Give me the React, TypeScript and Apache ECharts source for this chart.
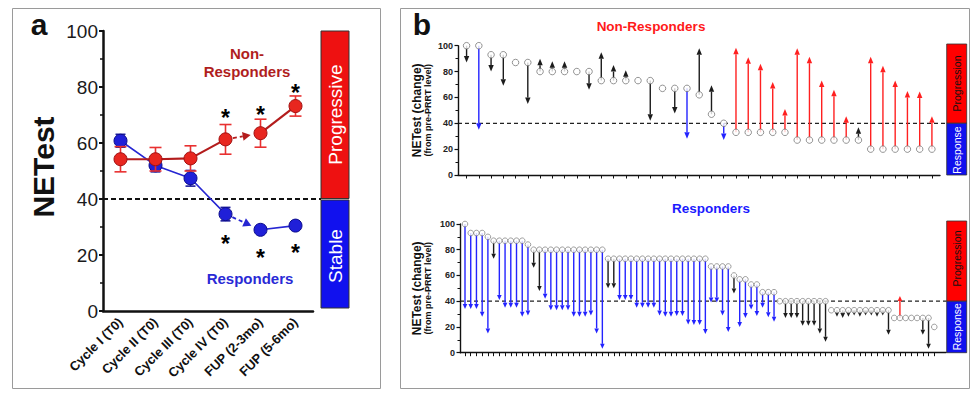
import React, { useEffect, useRef } from "react";
import * as echarts from "echarts";

const FONT = '"Liberation Sans", Arial, Helvetica, sans-serif';

// ---------------- Panel a data ----------------
const timepoints = ["Cycle I (T0)", "Cycle II (T0)", "Cycle III (T0)", "Cycle IV (T0)", "FUP (2-3mo)", "FUP (5-6mo)"];
const nonRespMean = [54.2, 54.2, 54.5, 61.3, 63.5, 73.2];
const nonRespErr = [4.5, 4.2, 4.5, 5.3, 5.0, 3.6];
const respMean = [60.8, 52.0, 47.4, 34.6, 29.0, 30.5];
const respErr = [2.3, 2.3, 2.8, 2.4, 1.0, 1.3];
const nonRespStars = [null, null, null, 70.8, 71.8, 79.5];
const respStars = [null, null, null, 25.6, 20.7, 22.4];
const DASHED_FROM = 3; // Cycle IV -> FUP (2-3mo) drawn dashed with arrow
const THRESHOLD = 40;
const yTicksA = [0, 20, 40, 60, 80, 100];

// ---------------- Panel b data (top: Non-Responders) ----------------
const nrStart = [100, 100, 93, 93, 87, 87, 80, 80, 80, 80, 80, 73, 73, 73, 73, 73, 67, 67, 67, 62, 47, 40, 33, 33, 33, 33, 33, 27, 27, 27, 27, 27, 27, 20, 20, 20, 20, 20, 20];
const nrEnd = [87, 35, 80, 69, 87, 55, 90, 88, 88, 80, 66, 95, 85, 81, 73, 42, 67, 47.5, 28, 98, 69.5, 27, 98.5, 91, 86, 72, 51, 98, 91.5, 73, 66, 45.5, 37, 91.5, 84.5, 73, 65, 64.5, 45.5];
// k = stable (black), b = response (blue), r = progression (red), - = unchanged
const nrKind = ["kbkk-k", "kkk-k", "kkk-k", "-kb", "kkb", "rrrrr", "rrrrrk", "rrrrrr"].join("").split("");

// ---------------- Panel b data (bottom: Responders) ----------------
const rStart = [
  100, 93, 93, 93, 90, 87, 87, 87, 87, 87, 87, 84,
  80, 80, 80, 80, 80, 80, 80, 80, 80, 80, 80, 80, 80,
  73, 73, 73, 73, 73, 73, 73, 73, 73, 73, 73, 73, 73, 73, 73, 73, 73, 73,
  67, 67, 67, 67, 60, 57, 57, 53, 53, 47, 47, 47,
  40, 40, 40, 40, 40, 40, 40, 40, 40,
  33, 33, 33, 33, 33, 33, 33, 33, 33, 33, 33,
  27, 27, 27, 27, 27, 27, 27, 20,
];
const rEnd = [
  34, 34, 34, 28, 15, 73, 41, 35, 35, 35, 28, 29,
  66, 48, 42, 33, 33, 33, 33, 28, 28, 28, 29, 15, 3,
  50, 50, 41, 41, 41, 35, 35, 35, 35, 29, 28, 28, 28.5, 28.5, 22, 21.5, 21.5, 14.5,
  39, 39, 29, 16, 46, 20, 27, 33.5, 28.5, 35, 27.5, 24,
  40, 27, 27, 27, 21, 21, 21, 15, 8.5,
  33, 28, 27, 28, 29, 28, 29, 29, 28, 29, 14,
  27, 44, 27, 27, 27, 14, 3, 20,
];
const rKind = [
  "bbbbb", "k", "bbbbbb", "kk", "bbbbbbbbbbb", "kk", "bbbbbbbbbbbbbbbbbbbb", "k", "bbbbbbb",
  "-", "kkkkkkkk", "-", "kkkkkkkkkk", "-", "r", "---", "kk", "-",
].join("").split("");
const yTicksB = [0, 20, 40, 60, 80, 100];

// ---------------- layout ----------------
const GA = { left: 103, top: 31, width: 210, height: 280 };
const GT = { left: 458, top: 45.7, width: 482, height: 129.3 };
const GB = { left: 460, top: 224, width: 486, height: 128.7 };
const yPix = (g: any, v: number) => g.top + g.height * (1 - v / 100);

const KIND_COLOR: Record<string, string> = { k: "#1c1c1c", b: "#2323ff", r: "#ff2020" };

function arrowRenderer(kinds: string[], headLen: number, headHalf: number, lw: number) {
  return (params: any, api: any) => {
    const kind = kinds[params.dataIndex];
    const s = api.value(1);
    const e = api.value(2);
    if (!kind || kind === "-" || s === e) return { type: "group", children: [] };
    const p0 = api.coord([api.value(0), s]);
    const p1 = api.coord([api.value(0), e]);
    const dir = p1[1] > p0[1] ? 1 : -1;
    const base = p1[1] - dir * headLen;
    const color = KIND_COLOR[kind];
    return {
      type: "group",
      children: [
        { type: "line", shape: { x1: p0[0], y1: p0[1], x2: p1[0], y2: base }, style: { stroke: color, lineWidth: lw } },
        {
          type: "polygon",
          shape: { points: [[p1[0], p1[1]], [p1[0] - headHalf, base], [p1[0] + headHalf, base]] },
          style: { fill: color },
        },
      ],
    };
  };
}

function errorRenderer(color: string, cap: number, lw: number) {
  return (params: any, api: any) => {
    const x = api.value(0);
    const m = api.value(1);
    const e = api.value(2);
    const hi = api.coord([x, m + e]);
    const lo = api.coord([x, m - e]);
    const st = { stroke: color, lineWidth: lw };
    return {
      type: "group",
      children: [
        { type: "line", shape: { x1: hi[0], y1: hi[1], x2: lo[0], y2: lo[1] }, style: st },
        { type: "line", shape: { x1: hi[0] - cap, y1: hi[1], x2: hi[0] + cap, y2: hi[1] }, style: st },
        { type: "line", shape: { x1: lo[0] - cap, y1: lo[1], x2: lo[0] + cap, y2: lo[1] }, style: st },
      ],
    };
  };
}

function dashedArrowRenderer(color: string, r: number) {
  return (params: any, api: any) => {
    const p0 = api.coord([api.value(0), api.value(1)]);
    const p1 = api.coord([api.value(2), api.value(3)]);
    const dx = p1[0] - p0[0];
    const dy = p1[1] - p0[1];
    const L = Math.hypot(dx, dy);
    const ux = dx / L;
    const uy = dy / L;
    const start = [p0[0] + ux * (r + 1), p0[1] + uy * (r + 1)];
    const tip = [p1[0] - ux * (r + 3.5), p1[1] - uy * (r + 3.5)];
    const hl = 8;
    const hw = 4.5;
    const base = [tip[0] - ux * hl, tip[1] - uy * hl];
    const nx = -uy;
    const ny = ux;
    return {
      type: "group",
      children: [
        {
          type: "line",
          shape: { x1: start[0], y1: start[1], x2: base[0], y2: base[1] },
          style: { stroke: color, lineWidth: 1.8, lineDash: [4, 3] },
        },
        {
          type: "polygon",
          shape: { points: [tip, [base[0] + nx * hw, base[1] + ny * hw], [base[0] - nx * hw, base[1] - ny * hw]] },
          style: { fill: color },
        },
      ],
    };
  };
}

// asterisk drawn as text at the data point (glyph centre placed on the value)
function starRenderer(params: any, api: any) {
  const p = api.coord([api.value(0), api.value(1)]);
  return {
    type: "text",
    x: p[0],
    y: p[1] + 5,
    style: {
      text: "*",
      fill: "#000",
      fontSize: 23,
      fontWeight: "bold",
      fontFamily: FONT,
      align: "center",
      verticalAlign: "middle",
      lineHeight: 12,
    },
  };
}

function txt(text: string, x: number, y: number, size: number, color: string, weight = "normal", rotation = 0, extra: any = {}) {
  return {
    type: "text",
    x,
    y,
    rotation,
    z: 20,
    style: {
      text,
      fill: color,
      fontSize: size,
      fontWeight: weight,
      fontFamily: FONT,
      align: "center",
      verticalAlign: "middle",
      ...extra,
    },
  };
}

function buildOption() {
  const RED_LINE = "#b31c1c";
  const RED_FILL = "#e8261f";
  const RED_ERR = "#e83030";
  const BLUE_LINE = "#2626d2";
  const BLUE_FILL = "#2020d8";
  const BLUE_ERR = "#1d1d9c";

  const seg = (arr: number[], first: boolean) =>
    arr.map((v, i) => (first ? (i <= DASHED_FROM ? v : "-") : i > DASHED_FROM ? v : "-"));

  const lineSeries = (data: any[], lineColor: string, fill: string, border: string, lw: number, z: number) => ({
    type: "line",
    xAxisIndex: 0,
    yAxisIndex: 0,
    data,
    symbol: "circle",
    symbolSize: 13,
    connectNulls: false,
    z,
    lineStyle: { color: lineColor, width: lw },
    itemStyle: { color: fill, borderColor: border, borderWidth: 1 },
  });

  const starSeries = (vals: (number | null)[]) => ({
    type: "custom",
    xAxisIndex: 0,
    yAxisIndex: 0,
    z: 10,
    renderItem: starRenderer,
    encode: { x: 0, y: 1 },
    data: vals.map((v, i) => (v == null ? null : [i, v])).filter((d) => d !== null),
  });

  const bValueY = (gridIndex: number) => ({
    gridIndex,
    type: "value",
    min: 0,
    max: 100,
    interval: 20,
    axisLine: { show: true, lineStyle: { color: "#111", width: 1.4 } },
    axisTick: { show: true, length: 3.5, lineStyle: { color: "#111", width: 1.2 } },
    minorTick: { show: true, splitNumber: 2, length: 2.5, lineStyle: { color: "#111", width: 1 } },
    axisLabel: {
      fontSize: 9,
      fontWeight: "bold",
      color: "#222",
      fontFamily: FONT,
      margin: 5,
      customValues: yTicksB,
    },
    splitLine: { show: false },
  });

  const bValueX = (gridIndex: number, min: number, max: number, n: number) => ({
    gridIndex,
    type: "value",
    min,
    max,
    axisLine: { show: true, lineStyle: { color: "#111", width: 1.4 } },
    axisTick: {
      show: true,
      length: 3.5,
      lineStyle: { color: "#111", width: 1 },
      customValues: Array.from({ length: n }, (_, i) => i + 1),
    },
    axisLabel: { show: false },
    splitLine: { show: false },
  });

  const graphic: any[] = [
    // panel borders
    { type: "rect", shape: { x: 12.5, y: 8.5, width: 368, height: 380 }, style: { fill: "none", stroke: "#9a9a9a", lineWidth: 1 } },
    { type: "rect", shape: { x: 400.5, y: 8.5, width: 569, height: 380 }, style: { fill: "none", stroke: "#9a9a9a", lineWidth: 1 } },
    txt("a", 39, 24.5, 30, "#111", "bold"),
    txt("b", 422, 24.5, 30, "#111", "bold"),
    // panel a
    txt("NETest", 43, 167, 30, "#111", "bold", Math.PI / 2),
    txt("Non-\nResponders", 247, 62.2, 15, "#b01e1e", "bold", 0, { lineHeight: 18 }),
    txt("Responders", 250, 278, 15, "#2a2ad6", "bold", 0, { lineHeight: 15 }),
    {
      type: "line",
      shape: { x1: GA.left, y1: yPix(GA, THRESHOLD), x2: 321, y2: yPix(GA, THRESHOLD) },
      style: { stroke: "#111", lineWidth: 2, lineDash: [5, 3] },
    },
    { type: "rect", shape: { x: 321, y: 31, width: 28, height: 167.5 }, style: { fill: "#ee1111", stroke: "#333", lineWidth: 1 } },
    { type: "rect", shape: { x: 321, y: 200, width: 28, height: 108 }, style: { fill: "#1111ee", stroke: "#333", lineWidth: 1 } },
    txt("Progressive", 335, 114.5, 19, "#fff", "normal", Math.PI / 2),
    txt("Stable", 335, 256, 19, "#fff", "normal", Math.PI / 2),
    // panel b top
    txt("Non-Responders", 651, 26, 13.5, "#ff1a1a", "bold"),
    txt("NETest (change)", 416.7, yPix(GT, 50), 12, "#111", "bold", Math.PI / 2),
    txt("(from pre-PRRT level)", 428.3, yPix(GT, 50), 9, "#111", "bold", Math.PI / 2),
    {
      type: "line",
      shape: { x1: GT.left, y1: yPix(GT, THRESHOLD), x2: 946.7, y2: yPix(GT, THRESHOLD) },
      style: { stroke: "#222", lineWidth: 1.3, lineDash: [4, 3] },
    },
    { type: "rect", shape: { x: 946.7, y: 44, width: 20, height: yPix(GT, THRESHOLD) - 44 }, style: { fill: "#ff0000", stroke: "#333", lineWidth: 0.8 } },
    { type: "rect", shape: { x: 946.7, y: yPix(GT, THRESHOLD), width: 20, height: yPix(GT, 0) - yPix(GT, THRESHOLD) }, style: { fill: "#1010ee", stroke: "#333", lineWidth: 0.8 } },
    txt("Progression", 956.7, 83.5, 10.5, "#111", "normal", Math.PI / 2),
    txt("Response", 956.7, 150, 10.5, "#fff", "normal", Math.PI / 2),
    // panel b bottom
    txt("Responders", 711, 208, 13.5, "#1a1aff", "bold"),
    txt("NETest (change)", 416.7, yPix(GB, 50), 12, "#111", "bold", Math.PI / 2),
    txt("(from pre-PRRT level)", 428.3, yPix(GB, 50), 9, "#111", "bold", Math.PI / 2),
    {
      type: "line",
      shape: { x1: GB.left, y1: yPix(GB, THRESHOLD), x2: 946.7, y2: yPix(GB, THRESHOLD) },
      style: { stroke: "#222", lineWidth: 1.3, lineDash: [4, 3] },
    },
    { type: "rect", shape: { x: 946.7, y: 221, width: 20, height: yPix(GB, THRESHOLD) - 221 }, style: { fill: "#ff0000", stroke: "#333", lineWidth: 0.8 } },
    { type: "rect", shape: { x: 946.7, y: yPix(GB, THRESHOLD), width: 20, height: yPix(GB, 0) - yPix(GB, THRESHOLD) }, style: { fill: "#1010ee", stroke: "#333", lineWidth: 0.8 } },
    txt("Progression", 956.7, 258.5, 10.5, "#111", "normal", Math.PI / 2),
    txt("Response", 956.7, 326.7, 10.5, "#fff", "normal", Math.PI / 2),
  ];

  return {
    animation: false,
    backgroundColor: "#fff",
    textStyle: { fontFamily: FONT },
    grid: [
      { ...GA, containLabel: false },
      { ...GT, containLabel: false },
      { ...GB, containLabel: false },
    ],
    xAxis: [
      {
        gridIndex: 0,
        type: "category",
        data: timepoints,
        boundaryGap: true,
        axisLine: { lineStyle: { color: "#111", width: 2.5 } },
        axisTick: { alignWithLabel: true, length: 6, lineStyle: { color: "#111", width: 2 } },
        axisLabel: { rotate: 45, interval: 0, fontSize: 13, fontWeight: "bold", color: "#111", fontFamily: FONT, margin: 9 },
      },
      bValueX(1, 0.3, 39.66, nrStart.length),
      bValueX(2, 0.126, 85.05, rStart.length),
    ],
    yAxis: [
      {
        gridIndex: 0,
        type: "value",
        min: 0,
        max: 100,
        interval: 20,
        axisLine: { show: true, lineStyle: { color: "#111", width: 2.5 } },
        axisTick: { show: true, length: 4, lineStyle: { color: "#111", width: 2 } },
        minorTick: { show: true, splitNumber: 2, length: 3, lineStyle: { color: "#111", width: 1.5 } },
        axisLabel: { fontSize: 19, color: "#1a1a1a", fontFamily: FONT, margin: 5, customValues: yTicksA },
        splitLine: { show: false },
      },
      bValueY(1),
      bValueY(2),
    ],
    series: [
      // ---- panel a, responders (blue)
      {
        type: "custom",
        xAxisIndex: 0,
        yAxisIndex: 0,
        z: 3,
        renderItem: errorRenderer(BLUE_ERR, 5, 1.6),
        encode: { x: 0, y: 1 },
        data: respMean.map((m, i) => [i, m, respErr[i]]),
      },
      lineSeries(seg(respMean, true), BLUE_LINE, BLUE_FILL, "#0b0b8a", 1.6, 4),
      lineSeries(seg(respMean, false), BLUE_LINE, BLUE_FILL, "#0b0b8a", 1.6, 4),
      {
        type: "custom",
        xAxisIndex: 0,
        yAxisIndex: 0,
        z: 4,
        renderItem: dashedArrowRenderer(BLUE_LINE, 6.5),
        encode: { x: [0, 2], y: [1, 3] },
        data: [[DASHED_FROM, respMean[DASHED_FROM], DASHED_FROM + 1, respMean[DASHED_FROM + 1]]],
      },
      // ---- panel a, non-responders (red)
      {
        type: "custom",
        xAxisIndex: 0,
        yAxisIndex: 0,
        z: 5,
        renderItem: errorRenderer(RED_ERR, 6, 1.6),
        encode: { x: 0, y: 1 },
        data: nonRespMean.map((m, i) => [i, m, nonRespErr[i]]),
      },
      lineSeries(seg(nonRespMean, true), RED_LINE, RED_FILL, "#a01010", 2.2, 6),
      lineSeries(seg(nonRespMean, false), RED_LINE, RED_FILL, "#a01010", 2.2, 6),
      {
        type: "custom",
        xAxisIndex: 0,
        yAxisIndex: 0,
        z: 6,
        renderItem: dashedArrowRenderer(RED_LINE, 6.5),
        encode: { x: [0, 2], y: [1, 3] },
        data: [[DASHED_FROM, nonRespMean[DASHED_FROM], DASHED_FROM + 1, nonRespMean[DASHED_FROM + 1]]],
      },
      starSeries(nonRespStars),
      starSeries(respStars),
      // ---- panel b top
      {
        type: "custom",
        xAxisIndex: 1,
        yAxisIndex: 1,
        z: 2,
        renderItem: arrowRenderer(nrKind, 6.5, 2.7, 1.4),
        encode: { x: 0, y: [1, 2] },
        data: nrStart.map((s, i) => [i + 1, s, nrEnd[i]]),
      },
      {
        type: "scatter",
        xAxisIndex: 1,
        yAxisIndex: 1,
        z: 3,
        symbol: "circle",
        symbolSize: 6.5,
        itemStyle: { color: "#fff", borderColor: "#6a6a6a", borderWidth: 0.9 },
        data: nrStart.map((s, i) => [i + 1, s]),
      },
      // ---- panel b bottom
      {
        type: "custom",
        xAxisIndex: 2,
        yAxisIndex: 2,
        z: 2,
        renderItem: arrowRenderer(rKind, 5, 2.3, 1.4),
        encode: { x: 0, y: [1, 2] },
        data: rStart.map((s, i) => [i + 1, s, rEnd[i]]),
      },
      {
        type: "scatter",
        xAxisIndex: 2,
        yAxisIndex: 2,
        z: 3,
        symbol: "circle",
        symbolSize: 5.6,
        itemStyle: { color: "#fff", borderColor: "#6a6a6a", borderWidth: 0.8 },
        data: rStart.map((s, i) => [i + 1, s]),
      },
    ],
    graphic,
  };
}

export default function App() {
  const ref = useRef<HTMLDivElement>(null);
  useEffect(() => {
    document.body.style.margin = "0";
    const chart = echarts.init(ref.current as HTMLDivElement, null, { renderer: "svg" });
    chart.setOption(buildOption() as any);
    return () => chart.dispose();
  }, []);
  return <div ref={ref} style={{ width: 976, height: 393 }} />;
}
